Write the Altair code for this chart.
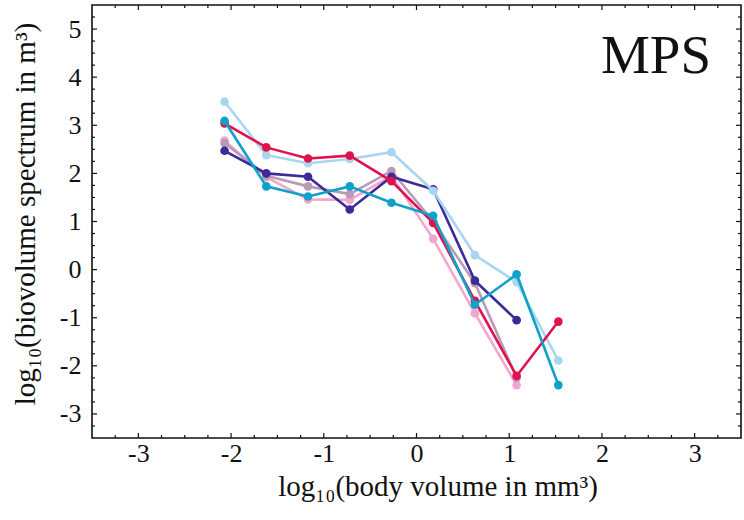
import altair as alt
import pandas as pd

# x positions (log10 body volume bins)
x_bins = [-2.07, -1.62, -1.17, -0.72, -0.27, 0.18, 0.63, 1.08, 1.53]

# series values (log10 biovolume spectrum)
s_lightblue = [3.49, 2.38, 2.21, 2.30, 2.44, 1.64, 0.30, -0.26, -1.89]
s_crimson = [3.04, 2.54, 2.31, 2.37, 1.84, 0.97, -0.65, -2.21, -1.08]
s_cyan = [3.09, 1.73, 1.52, 1.73, 1.39, 1.12, -0.73, -0.10, -2.40]
s_purple = [2.47, 2.00, 1.93, 1.25, 1.93, 1.67, -0.23, -1.05]
s_pink = [2.68, 1.92, 1.46, 1.45, 1.95, 0.64, -0.91, -2.40]
s_mauve = [2.63, 1.95, 1.73, 1.57, 2.05, 1.00, -0.28, -2.25]

series = [
    ("pink", s_pink, "#f3a6cf"),
    ("mauve", s_mauve, "#b99ab9"),
    ("purple", s_purple, "#3b2a97"),
    ("lightblue", s_lightblue, "#a9d6ef"),
    ("crimson", s_crimson, "#e0124c"),
    ("cyan", s_cyan, "#0ea2cb"),
]

x_labels = [-3, -2, -1, 0, 1, 2, 3]
y_labels = [-3, -2, -1, 0, 1, 2, 3, 4, 5]
x_minor = [-3.25, -2.75, -2.5, -2.25, -1.75, -1.5, -1.25, -0.75, -0.5, -0.25,
           0.25, 0.5, 0.75, 1.25, 1.5, 1.75, 2.25, 2.5, 2.75, 3.25]
y_minor = [-3.25, -2.75, -2.5, -2.25, -1.75, -1.5, -1.25, -0.75, -0.5, -0.25,
           0.25, 0.5, 0.75, 1.25, 1.5, 1.75, 2.25, 2.5, 2.75, 3.25,
           3.5, 3.75, 4.25, 4.5, 4.75, 5.25]

W, H = 649, 433
FONT = "Liberation Serif"

xscale = alt.Scale(domain=[-3.5, 3.5], nice=False, zero=False)
yscale = alt.Scale(domain=[-3.5, 5.5], nice=False, zero=False)

xaxis = alt.Axis(values=x_labels, ticks=False, domain=False, grid=False,
                 labelExpr="'' + datum.value",
                 labelFont=FONT, labelFontSize=26, labelColor="#111",
                 labelPadding=2, title="log₁₀(body volume in mm³)",
                 titleFont=FONT, titleFontSize=29, titleFontWeight="normal",
                 titleColor="#111", titlePadding=6, titleX=W / 2 + 21)
yaxis = alt.Axis(values=y_labels, ticks=False, domain=False, grid=False,
                 labelExpr="'' + datum.value",
                 labelFont=FONT, labelFontSize=26, labelColor="#111",
                 labelPadding=11, title="log₁₀(biovolume spectrum in m³)",
                 titleFont=FONT, titleFontSize=29, titleFontWeight="normal",
                 titleColor="#111", titlePadding=19, titleY=H / 2 - 8)

layers = []
for name, vals, col in series:
    df = pd.DataFrame({"x": x_bins[:len(vals)], "y": vals})
    base = alt.Chart(df).encode(
        x=alt.X("x:Q", scale=xscale, axis=xaxis),
        y=alt.Y("y:Q", scale=yscale, axis=yaxis),
    )
    layers.append(base.mark_line(color=col, strokeWidth=2.6))
    layers.append(base.mark_point(color=col, filled=True, opacity=1, size=75))

# inward ticks
def xt(vals, length):
    d = pd.DataFrame({"v": vals})
    b = alt.Chart(d).encode(x=alt.X("v:Q", scale=xscale, axis=xaxis))
    return [
        b.mark_rule(color="#111", strokeWidth=1.2).encode(y=alt.value(H), y2=alt.value(H - length)),
        b.mark_rule(color="#111", strokeWidth=1.2).encode(y=alt.value(0), y2=alt.value(length)),
    ]

def yt(vals, length):
    d = pd.DataFrame({"v": vals})
    b = alt.Chart(d).encode(y=alt.Y("v:Q", scale=yscale, axis=yaxis))
    return [
        b.mark_rule(color="#111", strokeWidth=1.2).encode(x=alt.value(0), x2=alt.value(length)),
        b.mark_rule(color="#111", strokeWidth=1.2).encode(x=alt.value(W), x2=alt.value(W - length)),
    ]

ticks = xt(x_labels, 5) + xt(x_minor, 3) + yt(y_labels, 5) + yt(y_minor, 3)

label = alt.Chart(pd.DataFrame({"t": ["MPS"]})).mark_text(
    font=FONT, fontSize=55, color="#111", align="center", baseline="alphabetic"
).encode(text="t:N", x=alt.value(564), y=alt.value(68))

chart = alt.layer(*layers, *ticks, label).properties(
    width=W, height=H,
    autosize=alt.AutoSizeParams(type="none"),
    padding={"left": 92, "top": 5, "right": 3, "bottom": 82},
    background="white",
).configure_view(stroke="#111", strokeWidth=1.6)

chart.save("out.html", embed_options={"renderer": "svg", "actions": False})
